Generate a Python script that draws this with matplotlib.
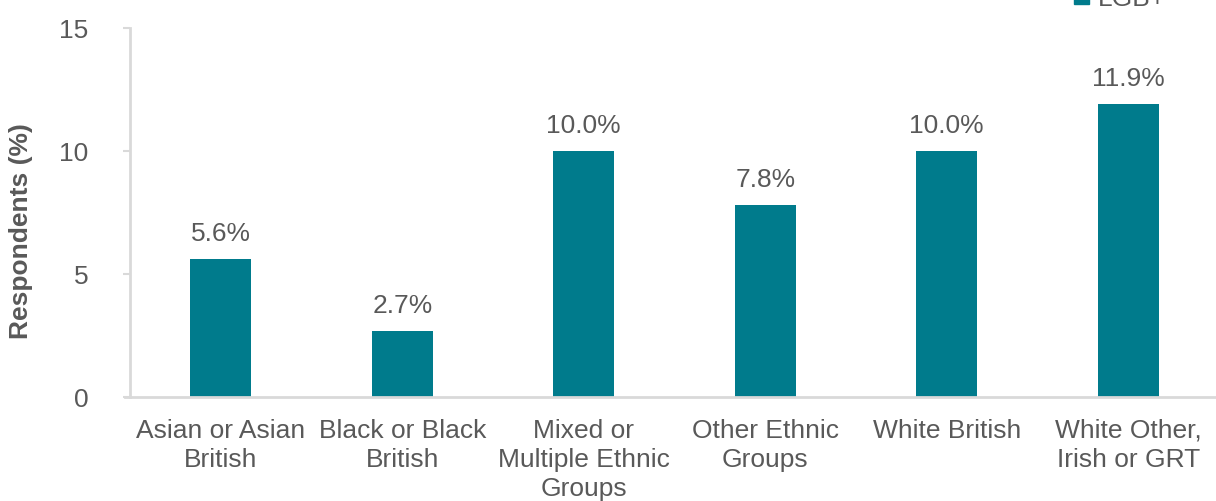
import matplotlib
matplotlib.use("Agg")
import matplotlib.pyplot as plt
from matplotlib.patches import Patch

categories = ["Asian or Asian\nBritish", "Black or Black\nBritish",
              "Mixed or\nMultiple Ethnic\nGroups", "Other Ethnic\nGroups",
              "White British", "White Other,\nIrish or GRT"]
values = [5.6, 2.7, 10.0, 7.8, 10.0, 11.9]
labels = ["5.6%", "2.7%", "10.0%", "7.8%", "10.0%", "11.9%"]
yticks = [0, 5, 10, 15]
series_name = "LGB+"

plt.rcParams['font.family'] = ['Liberation Sans', 'DejaVu Sans']
bar_color = "#007B8C"
text_color = "#595959"
axis_color = "#D9D9D9"

fig = plt.figure(figsize=(12.16, 5.02), dpi=100)
ax = fig.add_axes([130/1216, 1 - 398/502, 1089/1216, (398-29)/502])

x = list(range(len(categories)))
ax.bar(x, values, width=0.335, color=bar_color, zorder=2)
for xi, v, lab in zip(x, values, labels):
    ax.annotate(lab, (xi, v), xytext=(0, 10), textcoords="offset points",
                ha="center", va="bottom", fontsize=19, color=text_color)

ax.set_xlim(-0.5, len(categories) - 0.5)
ax.set_ylim(0, 15)
ax.set_yticks(yticks)
ax.set_xticks(x)
ax.set_xticklabels(categories, fontsize=19, color=text_color, linespacing=1.28)
ax.tick_params(axis='y', labelsize=19, labelcolor=text_color, color=axis_color,
               length=5, width=1.5, pad=25)
ax.tick_params(axis='x', length=0, pad=15)
for s in ["top", "right"]:
    ax.spines[s].set_visible(False)
for s in ["left", "bottom"]:
    ax.spines[s].set_color(axis_color)
    ax.spines[s].set_linewidth(2)
ax.spines["bottom"].set_bounds(-0.53, len(categories) - 0.5)
ax.spines["bottom"].set_clip_on(False)

ax.set_ylabel("Respondents (%)", fontsize=19, fontweight="bold",
              color=text_color, va="center")
ax.yaxis.set_label_coords(-(130 - 21) / 1089, (398 - 231) / 369)

fig.legend(handles=[Patch(color=bar_color)], labels=[series_name],
           loc="center left", bbox_to_anchor=(1074/1216, 1 + 1/502),
           frameon=False, fontsize=19, labelcolor=text_color,
           handlelength=0.55, handleheight=0.55, handletextpad=0.35,
           borderpad=0, borderaxespad=0)

fig.savefig("out.png", dpi=100)
